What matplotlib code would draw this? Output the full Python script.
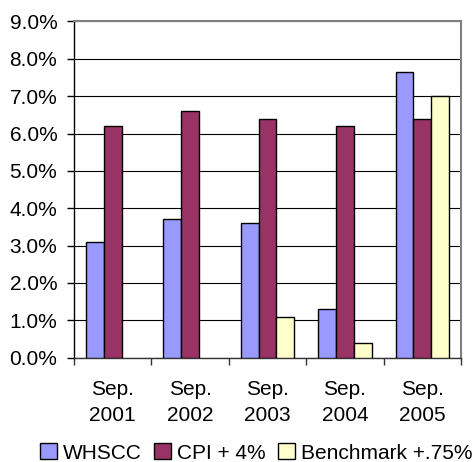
#!/usr/bin/env python3
"""Annual returns: WHSCC against CPI + 4% and benchmark + .75%."""

import matplotlib.pyplot as plt
import numpy as np
from matplotlib.ticker import FuncFormatter, MultipleLocator

plt.rcParams["font.family"] = ["Liberation Sans", "DejaVu Sans"]

years = ["Sep.\n2001", "Sep.\n2002", "Sep.\n2003", "Sep.\n2004", "Sep.\n2005"]
whscc = [3.1, 3.7, 3.6, 1.3, 7.65]
cpi_plus_4 = [6.2, 6.6, 6.4, 6.2, 6.4]
benchmark = [np.nan, np.nan, 1.1, 0.4, 7.0]

series = [
    ("WHSCC", whscc, "#9999FF"),
    ("CPI + 4%", cpi_plus_4, "#993366"),
    ("Benchmark +.75%", benchmark, "#FFFFCC"),
]

fig = plt.figure(figsize=(4.73, 4.62), dpi=100)
ax = fig.add_axes([0.1564, 0.2258, 0.9746 - 0.1564, 0.9535 - 0.2258])

x = np.arange(len(years))
width = 0.23
for i, (name, values, color) in enumerate(series):
    ax.bar(x + (i - 1) * width, values, width, color=color,
           edgecolor="black", linewidth=1.0, label=name, zorder=3)

ax.set_xlim(-0.5, len(years) - 0.5)
ax.set_ylim(0, 9)
ax.yaxis.set_major_locator(MultipleLocator(1))
ax.yaxis.set_major_formatter(FuncFormatter(lambda v, _: f"{v:.1f}%"))
ax.grid(axis="y", color="black", linewidth=0.8, zorder=0)

# category labels sit on invisible major ticks, separators are minor ticks
ax.set_xticks(x)
ax.set_xticklabels(years, linespacing=1.5)
ax.set_xticks(np.arange(-0.5, len(years), 1.0), minor=True)
ax.tick_params(axis="x", which="major", length=0, pad=16, labelsize=15)
ax.tick_params(axis="x", which="minor", length=5, width=1, color="#333333")
ax.tick_params(axis="y", length=5, width=1, labelsize=15, pad=7)

for side in ("top", "right"):
    ax.spines[side].set_color("#808080")
    ax.spines[side].set_linewidth(1.5)
ax.spines["left"].set_color("black")
ax.spines["bottom"].set_color("#333333")
ax.spines["left"].set_linewidth(1.0)
ax.spines["bottom"].set_linewidth(1.0)

handles, labels = ax.get_legend_handles_labels()
fig.legend(handles, labels, loc="center", ncol=3, frameon=False,
           bbox_to_anchor=(256.5 / 473, 1 - 453 / 462), fontsize=15,
           handlelength=0.8, handleheight=0.8, handletextpad=0.3,
           columnspacing=0.6, borderpad=0)

fig.savefig("out.png", dpi=100)
